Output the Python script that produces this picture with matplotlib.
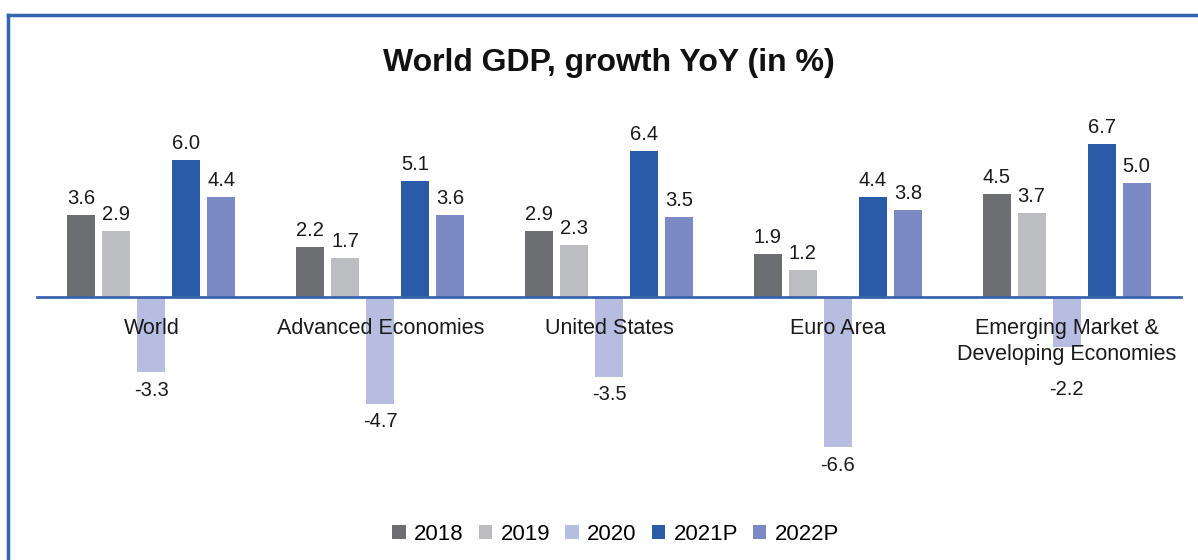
import numpy as np
import matplotlib.pyplot as plt
from matplotlib.patches import Patch
from matplotlib.lines import Line2D

plt.rcParams['font.family'] = ['Liberation Sans', 'DejaVu Sans']

regions = ['World', 'Advanced Economies', 'United States', 'Euro Area',
           'Emerging Market &\nDeveloping Economies']
years = ['2018', '2019', '2020', '2021P', '2022P']
g2018 = [3.6, 2.2, 2.9, 1.9, 4.5]
g2019 = [2.9, 1.7, 2.3, 1.2, 3.7]
g2020 = [-3.3, -4.7, -3.5, -6.6, -2.2]
g2021 = [6.0, 5.1, 6.4, 4.4, 6.7]
g2022 = [4.4, 3.6, 3.5, 3.8, 5.0]
series = [g2018, g2019, g2020, g2021, g2022]
colors = ['#6d6e71', '#bcbdc0', '#b7bde0', '#2a5ba8', '#7b8ac4']

fig = plt.figure(figsize=(11.98, 5.6), dpi=100)
ax = fig.add_axes([37 / 1198, 90 / 560, 1144 / 1198, 360 / 560])

x = np.arange(len(regions))
step = 0.153
width = 0.1224
for i, (vals, c) in enumerate(zip(series, colors)):
    bars = ax.bar(x + (i - 2) * step, vals, width, color=c, zorder=1)
    for j, (b, v) in enumerate(zip(bars, vals)):
        xc = b.get_x() + b.get_width() / 2
        if v >= 0:
            ax.annotate(f'{v:.1f}', (xc, v), xytext=(0, 5), textcoords='offset points',
                        ha='center', va='bottom', fontsize=14.5, color='#1a1a1a')
        else:
            # the two-line label of the last group pushes its value further down
            dy = -24 if j == len(regions) - 1 else -6
            ax.annotate(f'{v:.1f}', (xc, v), xytext=(0, dy), textcoords='offset points',
                        ha='center', va='top', fontsize=14.5, color='#1a1a1a')

ax.set_xlim(-0.5, 4.5)
ax.set_ylim(-7.59, 8.2)
for s in ['top', 'right', 'left']:
    ax.spines[s].set_visible(False)
ax.spines['bottom'].set_position(('data', 0))
ax.spines['bottom'].set_color('#3a64b0')
ax.spines['bottom'].set_linewidth(2)
ax.spines['bottom'].set_zorder(3)
ax.set_yticks([])
ax.set_xticks(x)
ax.set_xticklabels(regions, fontsize=15.5, color='#1a1a1a', linespacing=1.35)
ax.tick_params(axis='x', length=0, pad=15)

fig.text(0.508, 0.888, 'World GDP, growth YoY (in %)', ha='center', va='center',
         fontsize=23, fontweight='bold', color='#111111')

handles = [Patch(facecolor=c, edgecolor='none', label=l) for c, l in zip(colors, years)]
fig.legend(handles=handles, loc='center', bbox_to_anchor=(0.514, 0.046), ncol=5,
           frameon=False, fontsize=16, handlelength=0.6, handleheight=0.6,
           handletextpad=0.38, columnspacing=0.68)

# blue frame (left and top only)
fig.add_artist(Line2D([8 / 1198, 8 / 1198], [0, 1 - 15 / 560], color='#3264b0', lw=2.5))
fig.add_artist(Line2D([8 / 1198, 1], [1 - 15 / 560, 1 - 15 / 560], color='#3264b0', lw=2.5))

fig.savefig('out.png', dpi=100)
